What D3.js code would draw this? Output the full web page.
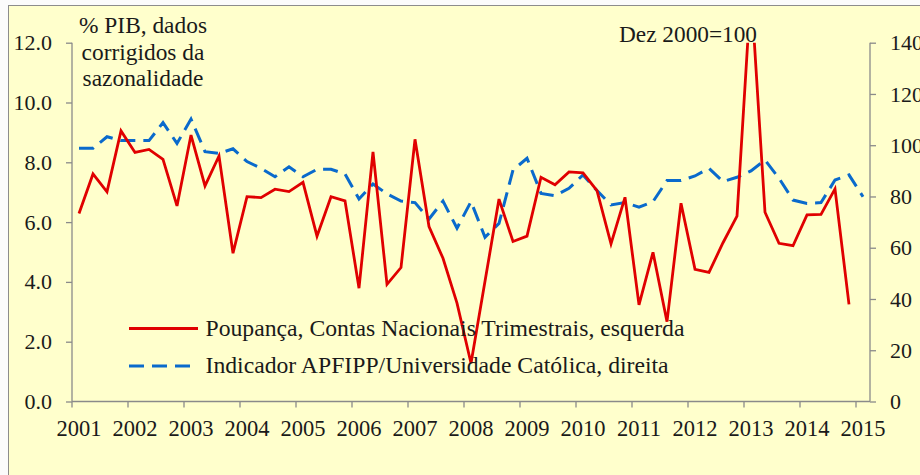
<!DOCTYPE html>
<html><head><meta charset="utf-8">
<script src="https://cdn.jsdelivr.net/npm/d3@7"></script>
</head><body style="margin:0;background:#fbfbfb">
<svg id="c" width="920" height="475" style="display:block"></svg>
<script>
const years = ["2001","2002","2003","2004","2005","2006","2007","2008","2009","2010","2011","2012","2013","2014","2015"];
const quarters = [];
years.forEach(y => { for (let q = 1; q <= 4; q++) quarters.push(y + "T" + q); });
const categories = quarters.slice(0, 57); // 2001T1 .. 2015T1

const poupanca = [6.29,7.61,7.01,9.05,8.33,8.43,8.10,6.54,8.91,7.21,
  8.21,4.96,6.85,6.82,7.10,7.02,7.33,5.53,6.85,6.71,
  3.79,8.35,3.92,4.48,8.77,5.85,4.79,3.29,1.28,4.02,
  6.77,5.35,5.53,7.50,7.25,7.68,7.65,7.05,5.27,6.83,
  3.23,4.99,2.67,6.63,4.42,4.32,5.31,6.20,13.8,6.33,
  5.29,5.21,6.24,6.26,7.11,3.25];
const indicador = [98.8,98.8,103.3,101.8,101.8,101.8,108.8,100.7,110.2,97.5,
  96.8,98.6,93.6,91.0,87.7,91.6,87.7,90.6,90.6,88.8,
  79.0,84.9,81.0,78.2,77.6,71.2,78.2,67.6,78.0,64.1,
  69.5,90.3,94.9,81.2,80.3,83.2,88.4,82.3,76.7,77.6,
  75.8,78.0,86.2,86.2,88.0,91.0,85.8,87.5,90.0,94.2,
  87.1,78.6,77.3,77.6,86.4,88.4,79.9];
const leftTicks = [0,2,4,6,8,10,12];
const rightTicks = [0,20,40,60,80,100,120,140];
const seriesNames = ["Poupança, Contas Nacionais Trimestrais, esquerda","Indicador APFIPP/Universidade Católica, direita"];
const titleLines = ["% PIB, dados","corrigidos da","sazonalidade"];
const baseNote = "Dez 2000=100";

const svg = d3.select("#c").attr("font-family","Liberation Serif");
const L = 72, R = 870, T = 42.7, B = 401.5;
const red = "#E00000", blue = "#0A6ACC", axisCol = "#8a8a8a", txt = "#1a1a1a";
const DASH = "15,8";
const font = (sel, size) => sel.attr("font-family","Liberation Serif").attr("font-size", size).attr("fill", txt);

svg.append("rect").attr("x",8.5).attr("y",5.5).attr("width",930).attr("height",480)
  .attr("fill","#FFFFCC").attr("stroke","#8c8c8c").attr("stroke-width",1);

const x = d3.scaleBand().domain(categories).range([L,R]).paddingInner(0).paddingOuter(0);
const yL = d3.scaleLinear().domain([0,12]).range([B,T]);
const yR = d3.scaleLinear().domain([0,140]).range([B,T]);
const cx = c => x(c) + x.bandwidth()/2;

svg.append("defs").append("clipPath").attr("id","pc")
  .append("rect").attr("x",L-5).attr("y",T).attr("width",R-L+10).attr("height",B-T);

// axes
const axL = svg.append("g").attr("transform",`translate(${L},0)`)
  .call(d3.axisLeft(yL).tickValues(leftTicks).tickFormat(d3.format(".1f")).tickSize(6).tickPadding(14));
const axR = svg.append("g").attr("transform",`translate(${R},0)`)
  .call(d3.axisRight(yR).tickValues(rightTicks).tickFormat(d3.format("d")).tickSize(6).tickPadding(14));
const q1 = categories.filter(c => c.endsWith("T1"));
const axB = svg.append("g").attr("transform",`translate(0,${B})`)
  .call(d3.axisBottom(x).tickValues(q1).tickFormat(c => c.slice(0,4)).tickSize(6).tickPadding(13));
axB.selectAll(".tick line").attr("x1",-x.bandwidth()/2).attr("x2",-x.bandwidth()/2);
[axL,axR,axB].forEach(a => {
  a.selectAll(".domain").attr("stroke",axisCol).attr("stroke-width",1.3);
  a.selectAll(".tick line").attr("stroke",axisCol).attr("stroke-width",1.3);
});
font(axL, 22); font(axR, 22); font(axB, 22.5);
font(axL.selectAll("text"), 22);
font(axR.selectAll("text"), 22);
font(axB.selectAll("text"), 22.5);
axL.select(".domain").attr("d",`M0,${T}V${B}`);
axR.select(".domain").attr("d",`M0,${T}V${B}`);
axB.select(".domain").attr("d",`M${L},0H${R}`);

// lines
const plot = svg.append("g").attr("clip-path","url(#pc)");
const lineL = d3.line().x((d,i) => cx(categories[i])).y(d => yL(d));
const lineR = d3.line().x((d,i) => cx(categories[i])).y(d => yR(d));
plot.append("path").datum(indicador).attr("d",lineR).attr("fill","none")
  .attr("stroke",blue).attr("stroke-width",3).attr("stroke-dasharray",DASH);
plot.append("path").datum(poupanca).attr("d",lineL).attr("fill","none")
  .attr("stroke",red).attr("stroke-width",2.8).attr("stroke-linejoin","miter");

// title
const tt = font(svg.append("text").attr("x",143).attr("y",33).attr("text-anchor","middle"), 23.4);
titleLines.forEach((t,i) => tt.append("tspan").attr("x",143).attr("dy", i===0?0:26.5).text(t));
font(svg.append("text").attr("x",619).attr("y",41.7), 23.3).text(baseNote);

// legend
const lg = svg.append("g");
[[red,null,328.5],[blue,DASH,366]].forEach((s,i) => {
  lg.append("line").attr("x1",129).attr("x2",198).attr("y1",s[2]).attr("y2",s[2])
    .attr("stroke",s[0]).attr("stroke-width",3).attr("stroke-dasharray",s[1]);
  font(lg.append("text").attr("x",205.5).attr("y",s[2]+7), 23.7).text(seriesNames[i]);
});
</script>
</body></html>
